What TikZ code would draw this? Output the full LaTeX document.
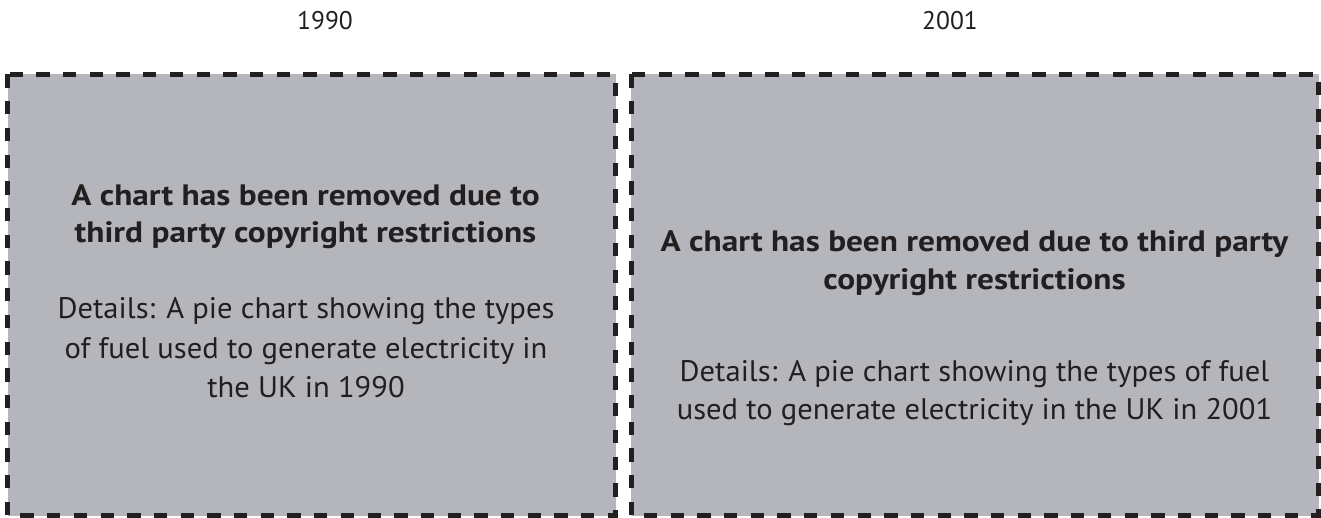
\documentclass[tikz,border=0pt]{standalone}
\usepackage{fontspec}
\setmainfont{PT Sans}
\newfontfamily\ttlfont[FakeStretch=1.13]{PT Sans}
\newfontfamily\dtlfont[FakeStretch=1.03]{PT Sans}
\definecolor{panelgray}{RGB}{181,182,187}
\definecolor{ink}{RGB}{35,31,32}
\tikzset{
  panel/.style={draw=ink, fill=panelgray, line width=5pt, dash pattern=on 13.3pt off 13.4pt, rectangle},
  hdr/.style={anchor=base, inner sep=0pt, text=ink, font=\fontsize{25.5}{30}\selectfont},
  ttl/.style={anchor=base, inner sep=0pt, text=ink, font=\ttlfont\fontsize{29.5}{35}\selectfont\bfseries},
  dtl/.style={anchor=base, inner sep=0pt, text=ink, font=\dtlfont\fontsize{29.7}{35}\selectfont}
}
\begin{document}
\begin{tikzpicture}[x=1pt,y=-1pt]
\useasboundingbox (0,0) rectangle (1321,518);
\fill[white] (0,0) rectangle (1321,518);
\draw[panel] (7.5,74.5) rectangle (615.5,515.5);
\draw[panel] (631,74.5) rectangle (1318.5,515.5);
\node[hdr] (h1) at (325,30) {1990};
\node[hdr] (h2) at (950,30) {2001};
\node[ttl] (t1a) at (305.5,206) {A chart has been removed due to};
\node[ttl] (t1b) at (305.5,243) {third party copyright restrictions};
\node[dtl] (d1a) at (306,319) {Details: A pie chart showing the types};
\node[dtl] (d1b) at (306,358) {of fuel used to generate electricity in};
\node[dtl] (d1c) at (306,397) {the UK in 1990};
\node[ttl] (t2a) at (974.5,252) {A chart has been removed due to third party};
\node[ttl] (t2b) at (974.5,290) {copyright restrictions};
\node[dtl] (d2a) at (974.5,381) {Details: A pie chart showing the types of fuel};
\node[dtl] (d2b) at (974.5,419) {used to generate electricity in the UK in 2001};
\end{tikzpicture}
\end{document}
